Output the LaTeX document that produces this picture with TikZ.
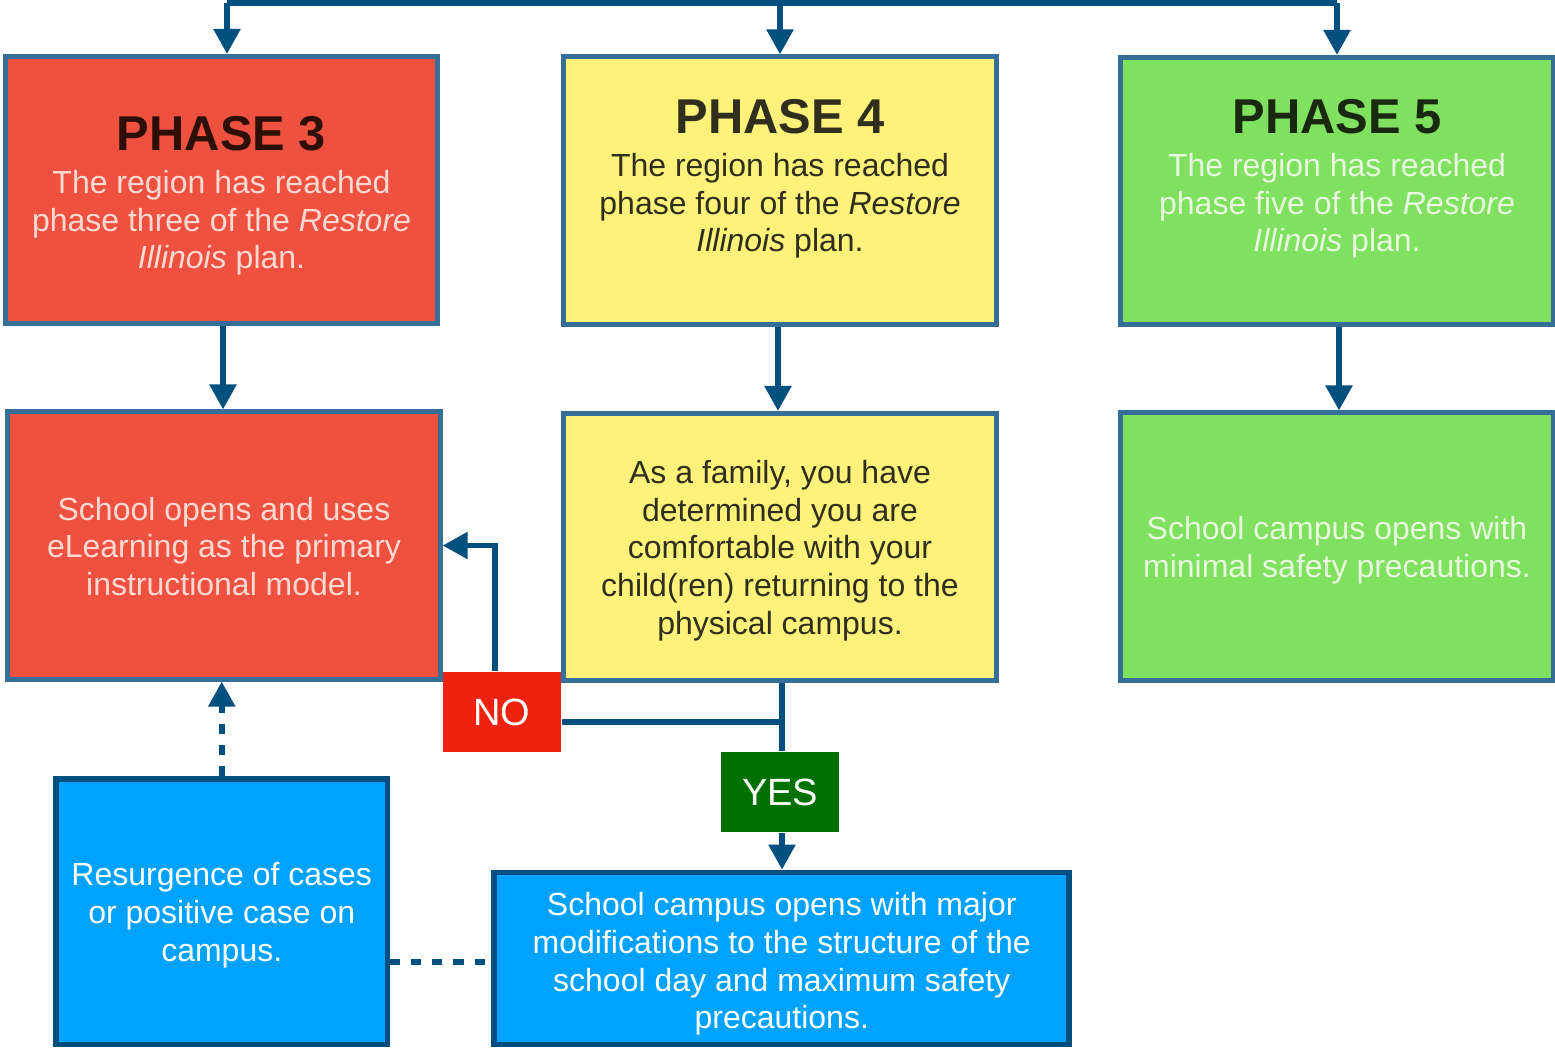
\documentclass[tikz,border=0pt]{standalone}
\usepackage{fontspec}
\setmainfont{Liberation Sans}
\usetikzlibrary{arrows.meta}
\definecolor{flowline}{HTML}{02507F}
\definecolor{boxedge}{HTML}{356F97}
\definecolor{blueedge}{HTML}{004F80}
\definecolor{redfill}{HTML}{EF5140}
\definecolor{yellowfill}{HTML}{FFF27A}
\definecolor{greenfill}{HTML}{80E060}
\definecolor{bluefill}{HTML}{00A2FF}
\definecolor{nofill}{HTML}{EE2210}
\definecolor{yesfill}{HTML}{007000}
\definecolor{redtext}{HTML}{FCDAD2}
\definecolor{greentext}{HTML}{E8F8DE}
\definecolor{darktext}{HTML}{302E1C}
\definecolor{redtitle}{HTML}{2D0F08}
\definecolor{greentitle}{HTML}{18290F}
\newcommand{\phasetitle}[2]{{\color{#1}\fontsize{13.9}{16}\selectfont\bfseries #2}\\[1.5pt]}

\begin{document}
\begin{tikzpicture}[x=0.01cm,y=-0.01cm,
    box/.style={draw=boxedge,line width=0.05cm,minimum width=4.32cm,minimum height=2.67cm,inner sep=0pt},
    bluebox/.style={draw=blueedge,line width=0.057cm,fill=bluefill,inner sep=0pt},
    boxtext/.style={align=center,inner sep=0pt,font=\fontsize{9.1}{10.7}\selectfont},
    answer/.style={minimum width=1.18cm,minimum height=0.8cm,inner sep=0pt,text=white,font=\fontsize{10.8}{12}\selectfont},
    line/.style={draw=flowline,line width=0.055cm},
    arrow/.style={line,-{Triangle[width=0.26cm,length=0.25cm]}},
    dashline/.style={line,dash pattern=on 0.1cm off 0.11cm}]
    \useasboundingbox (0,0) rectangle (1555,1047);

    \node[box,fill=redfill] (p3) at (221.5,190) {};
    \node[box,fill=yellowfill] (p4) at (780,190.5) {};
    \node[box,fill=greenfill] (p5) at (1337,191) {};
    \node[box,fill=redfill] (r3) at (224,545.5) {};
    \node[box,fill=yellowfill] (f4) at (780,547) {};
    \node[box,fill=greenfill] (g5) at (1337,546.5) {};
    \node[bluebox,minimum width=3.315cm,minimum height=2.655cm] (resurge) at (221.75,911.75) {};
    \node[bluebox,minimum width=5.745cm,minimum height=1.72cm] (campus) at (781.75,958.5) {};

    \node[boxtext,text=redtext] (p3t) at (221.5,196)
        {\phasetitle{redtitle}{PHASE 3}The region has reached\\phase three of the \textit{Restore}\\\textit{Illinois} plan.};
    \node[boxtext,text=darktext] (p4t) at (780,179)
        {\phasetitle{darktext}{PHASE 4}The region has reached\\phase four of the \textit{Restore}\\\textit{Illinois} plan.};
    \node[boxtext,text=greentext] (p5t) at (1337,179)
        {\phasetitle{greentitle}{PHASE 5}The region has reached\\phase five of the \textit{Restore}\\\textit{Illinois} plan.};
    \node[boxtext,text=redtext] (r3t) at (224,546.5)
        {School opens and uses\\eLearning as the primary\\instructional model.};
    \node[boxtext,text=darktext] (f4t) at (780,550.5)
        {As a family, you have\\determined you are\\comfortable with your\\child(ren) returning to the\\physical campus.};
    \node[boxtext,text=greentext] (g5t) at (1337,550)
        {School campus opens with\\minimal safety precautions.};
    \node[boxtext,text=white] (resurget) at (221.75,915.25)
        {Resurgence of cases\\or positive case on\\campus.};
    \node[boxtext,text=white] (campust) at (781.75,964)
        {School campus opens with major\\modifications to the structure of the\\school day and maximum safety\\precautions.};

    \node[answer,fill=nofill] (no) at (502,712) {NO};
    \node[answer,fill=yesfill] (yes) at (780,792) {YES};

    \coordinate (t3) at (227,3);
    \coordinate (t4) at (780,3);
    \coordinate (t5) at (1337,3);
    \coordinate (d3) at (223,0);
    \coordinate (d4) at (778,0);
    \coordinate (d5) at (1339,0);
    \coordinate (split) at (782,722);
    \coordinate (dash) at (0,962);

    \draw[line] (t3) -- (t5);
    \draw[arrow] (t3) -- (t3 |- p3.north);
    \draw[arrow] (t4) -- (t4 |- p4.north);
    \draw[arrow] (t5) -- (t5 |- p5.north);
    \draw[arrow] (d3 |- p3.south) -- (d3 |- r3.north);
    \draw[arrow] (d4 |- p4.south) -- (d4 |- f4.north);
    \draw[arrow] (d5 |- p5.south) -- (d5 |- g5.north);
    \draw[line] (split |- f4.south) -- (split) -- (split -| no.east);
    \draw[line] (split) -- (split |- yes.north);
    \draw[arrow] (split |- yes.south) -- (split |- campus.north);
    \draw[arrow] ([xshift=-0.07cm]no.north) |- (r3.east);
    \draw[dashline,-{Triangle[width=0.26cm,length=0.25cm]}] (resurge.north) -- (resurge.north |- r3.south);
    \draw[dashline] (resurge.east |- dash) -- (campus.west |- dash);
\end{tikzpicture}
\end{document}
